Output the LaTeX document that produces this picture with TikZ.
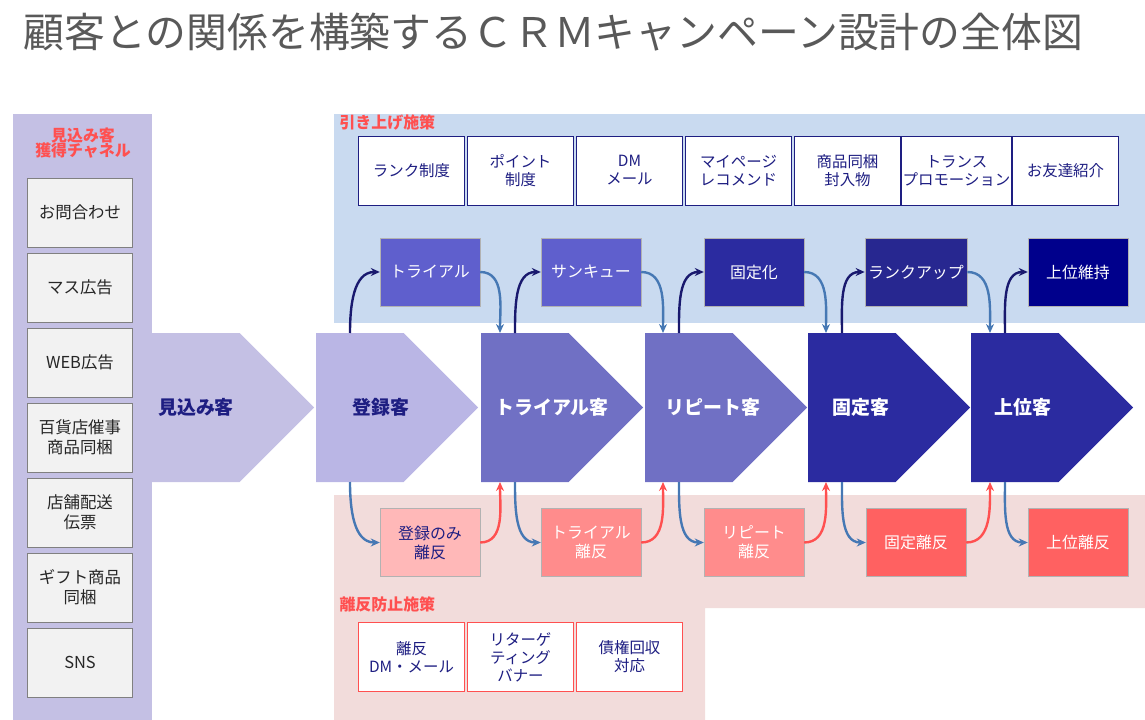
\documentclass[tikz,border=0pt]{standalone}
\usepackage{fontspec}
\setmainfont{Noto Sans CJK JP}
\usetikzlibrary{shapes.symbols, arrows.meta, positioning, calc}
\definecolor{panel}{RGB}{196,192,228}
\definecolor{topbg}{RGB}{201,218,240}
\definecolor{botbg}{RGB}{242,220,219}
\definecolor{navy}{RGB}{30,30,130}
\definecolor{midblue}{RGB}{112,112,196}
\definecolor{deepblue}{RGB}{43,43,160}
\definecolor{steel}{RGB}{70,120,180}
\definecolor{redtxt}{RGB}{255,80,80}

\begin{document}
\begin{tikzpicture}[x=1bp, y=-1bp,
    chan/.style={draw=gray, fill=gray!10, line width=0.8pt, minimum width=105bp, minimum height=69bp, font=\fontsize{16.5}{20}\selectfont, align=center, text=black!85},
    meas/.style={draw=navy, fill=white, line width=0.8pt, minimum width=106bp, minimum height=69bp, inner sep=1pt, font=\fontsize{15.5}{18}\selectfont, align=center, text=navy},
    prev/.style={draw=redtxt, fill=white, line width=0.8pt, minimum width=106bp, minimum height=69bp, font=\fontsize{15.5}{18}\selectfont, align=center, text=navy},
    stagebox/.style={draw=gray!60, minimum width=100bp, minimum height=68bp, font=\fontsize{16}{19}\selectfont, align=center, text=white},
    chev/.style={signal, signal to=east, minimum width=162bp, minimum height=149bp, inner sep=0pt, anchor=west},
    clab/.style={font=\bfseries\fontsize{19}{22}\selectfont},
    head/.style={font=\bfseries\fontsize{16}{18}\selectfont, text=redtxt, align=center},
    up/.style={-{Stealth[length=9bp,width=8bp]}, line width=2.4pt, navy!85!black},
    down/.style={-{Stealth[length=9bp,width=8bp]}, line width=2.4pt, steel},
    back/.style={-{Stealth[length=9bp,width=8bp]}, line width=2.4pt, redtxt}]
    \useasboundingbox (0,0) rectangle (1145,720);

    % Backgrounds
    \fill[panel] (13,114) rectangle (152,720);
    \fill[topbg] (334,114) rectangle (1145,323);
    \fill[botbg] (334,495) -- (1145,495) -- (1145,608) -- (705,608) -- (705,720) -- (334,720) -- cycle;

    % Title
    \node[anchor=west, text=black!65, font=\fontsize{41}{44}\selectfont] (title) at (20,32) {顧客との関係を構築するＣＲＭキャンペーン設計の全体図};

    % Channels
    \node[head] (chanhead) at (83,143) {見込み客\\[-3pt]獲得チャネル};
    \foreach \t [count=\i] in {お問合わせ, マス広告, WEB広告, {百貨店催事\\商品同梱}, {店舗配送\\伝票}, {ギフト商品\\同梱}, SNS}
        \node[chan] (ch\i) at (80,{212.5+75*(\i-1)}) {\t};

    % Upgrade measures
    \node[head, anchor=west] (uphead) at (336,122) {引き上げ施策};
    \foreach \t [count=\i] in {ランク制度, {ポイント\\制度}, {DM\\メール}, {マイページ\\レコメンド}, {商品同梱\\封入物}, {トランス\\プロモーション}, お友達紹介}
        \node[meas] (m\i) at ({411.5+109*(\i-1)},170.5) {\t};

    % Churn prevention
    \node[head, anchor=west] (dnhead) at (336,604) {離反防止施策};
    \node[prev] (p1) at (411.5,657) {離反\\DM・メール};
    \node[prev] (p2) at (520.5,657) {リターゲ\\ティング\\バナー};
    \node[prev] (p3) at (629.5,657) {債権回収\\対応};

    % Stages
    \node[chev, fill=panel] (c0) at (152,407.5) {};
    \node[chev, fill=panel!95!blue] (c1) at (316,407.5) {};
    \node[chev, fill=midblue] (c2) at (481,407.5) {};
    \node[chev, fill=midblue] (c3) at (645,407.5) {};
    \node[chev, fill=deepblue] (c4) at (808,407.5) {};
    \node[chev, fill=deepblue] (c5) at (971,407.5) {};
    \node[clab, text=navy] at (196,407) {見込み客};
    \node[clab, text=navy] at (381,407) {登録客};
    \node[clab, text=white] at (552,407) {トライアル客};
    \node[clab, text=white] at (713,407) {リピート客};
    \node[clab, text=white] at (861,407) {固定客};
    \node[clab, text=white] at (1023,407) {上位客};

    % Upper steps
    \node[stagebox, fill=midblue!85!blue] (u1) at (430,272) {トライアル};
    \node[stagebox, fill=midblue!85!blue] (u2) at (591,272) {サンキュー};
    \node[stagebox, fill=deepblue] (u3) at (754,272) {固定化};
    \node[stagebox, fill=deepblue!90!black] (u4) at (916,272) {ランクアップ};
    \node[stagebox, fill=blue!55!black] (u5) at (1078,272) {上位維持};

    % Lower steps
    \node[stagebox, fill=red!28, text=navy] (l1) at (430,542.5) {登録のみ\\離反};
    \node[stagebox, fill=red!45] (l2) at (591,542.5) {トライアル\\離反};
    \node[stagebox, fill=red!45] (l3) at (754,542.5) {リピート\\離反};
    \node[stagebox, fill=red!62] (l4) at (916,542.5) {固定離反};
    \node[stagebox, fill=red!62] (l5) at (1078,542.5) {上位離反};

    % Connectors
    \foreach \c/\i in {350/1, 515/2, 679/3, 842/4, 1005/5} {
        \coordinate (ut\i) at (\c,333);
        \coordinate (lb\i) at (\c,482);
        \draw[up] (ut\i) to[out=90, in=180] (u\i.west);
        \draw[down] (lb\i) to[out=-90, in=180] (l\i.west);
    }
    \foreach \i/\x in {1/500, 2/663, 3/826, 4/990} {
        \coordinate (ue\i) at (\x,333);
        \coordinate (le\i) at (\x,482);
        \draw[down] (u\i.east) to[out=0, in=90] (ue\i);
        \draw[back] (l\i.east) to[out=0, in=-90] (le\i);
    }
\end{tikzpicture}
\end{document}
